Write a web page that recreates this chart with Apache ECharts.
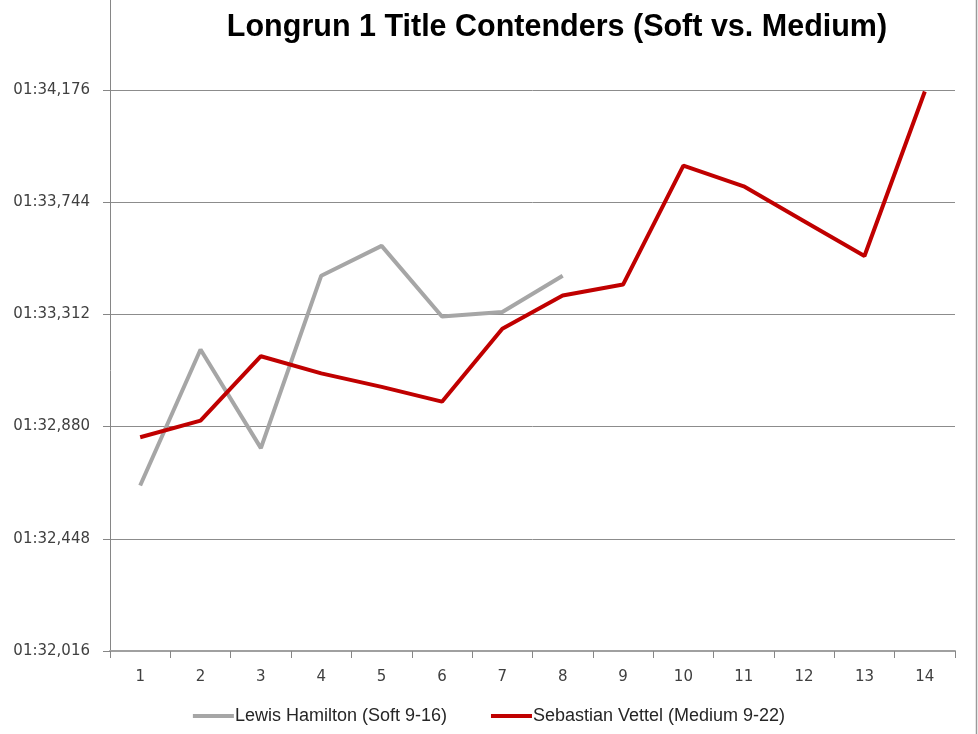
<!DOCTYPE html>
<html>
<head>
<meta charset="utf-8">
<script src="https://cdn.jsdelivr.net/npm/echarts@6/dist/echarts.min.js"></script>
<style>
html,body{margin:0;padding:0;background:#fff;}
#chart{width:978px;height:734px;}
</style>
</head>
<body>
<div id="chart"></div>
<script>
// Lap numbers (categories)
const laps = ['1','2','3','4','5','6','7','8','9','10','11','12','13','14'];
// Lap times in seconds
const hamilton = [92.653, 93.177, 92.797, 93.461, 93.576, 93.304, 93.321, 93.461];
const vettel = [92.839, 92.903, 93.151, 93.085, 93.033, 92.976, 93.257, 93.385, 93.427, 93.885, 93.805, 93.671, 93.537, 94.170];
// Y axis ticks
const yMin = 92.016;
const yMax = 94.176;
const yStep = 0.432;

function fmtTime(v) {
  const ms = Math.round(v * 1000);
  const m = Math.floor(ms / 60000);
  const s = Math.floor((ms % 60000) / 1000);
  const r = ms % 1000;
  return String(m).padStart(2, '0') + ':' + String(s).padStart(2, '0') + ',' + String(r).padStart(3, '0');
}

const chart = echarts.init(document.getElementById('chart'), null, {renderer: 'canvas'});
chart.setOption({
  backgroundColor: '#ffffff',
  animation: false,
  title: {
    text: 'Longrun 1 Title Contenders (Soft vs. Medium)',
    left: 552,
    textAlign: 'center',
    top: 7,
    textStyle: {fontFamily: 'Liberation Sans', fontWeight: 'bold', fontSize: 30.5, color: '#000'}
  },
  legend: {
    bottom: 4,
    left: 'center',
    icon: 'rect',
    itemWidth: 41,
    itemHeight: 4,
    itemGap: 44,
    textStyle: {fontFamily: 'Liberation Sans', fontSize: 18, color: '#262626', padding: [0, 0, 0, -4]},
    data: ['Lewis Hamilton (Soft 9-16)', 'Sebastian Vettel (Medium 9-22)']
  },
  grid: {left: 110, right: 23, top: 90, bottom: 83, containLabel: false},
  xAxis: {
    type: 'category',
    data: laps,
    boundaryGap: true,
    axisLine: {lineStyle: {color: '#a0a0a0', width: 2}},
    axisTick: {show: true, alignWithLabel: false, length: 7, lineStyle: {color: '#868686', width: 1}},
    axisLabel: {margin: 19, fontFamily: 'DejaVu Sans', fontSize: 15, color: '#404040'}
  },
  yAxis: {
    type: 'value',
    min: yMin,
    max: yMax,
    interval: yStep,
    axisLine: {show: true, lineStyle: {color: '#868686', width: 1}},
    axisTick: {show: true, length: 7, lineStyle: {color: '#868686'}},
    axisLabel: {margin: 20, fontFamily: 'DejaVu Sans', fontSize: 15, color: '#404040', formatter: fmtTime},
    splitLine: {show: true, lineStyle: {color: '#8c8c8c', width: 1}}
  },
  series: [
    {
      name: 'Lewis Hamilton (Soft 9-16)',
      type: 'line',
      data: hamilton,
      symbol: 'none',
      itemStyle: {color: '#a6a6a6'},
      lineStyle: {color: '#a6a6a6', width: 4}
    },
    {
      name: 'Sebastian Vettel (Medium 9-22)',
      type: 'line',
      data: vettel,
      symbol: 'none',
      itemStyle: {color: '#c00000'},
      lineStyle: {color: '#c00000', width: 4}
    }
  ],
  graphic: [
    {type: 'line', shape: {x1: 110.5, y1: 0, x2: 110.5, y2: 90}, style: {stroke: '#868686', lineWidth: 1}, silent: true},
    {type: 'line', shape: {x1: 976.5, y1: 0, x2: 976.5, y2: 734}, style: {stroke: '#9a9a9a', lineWidth: 1.5}, silent: true}
  ]
});
</script>
</body>
</html>
